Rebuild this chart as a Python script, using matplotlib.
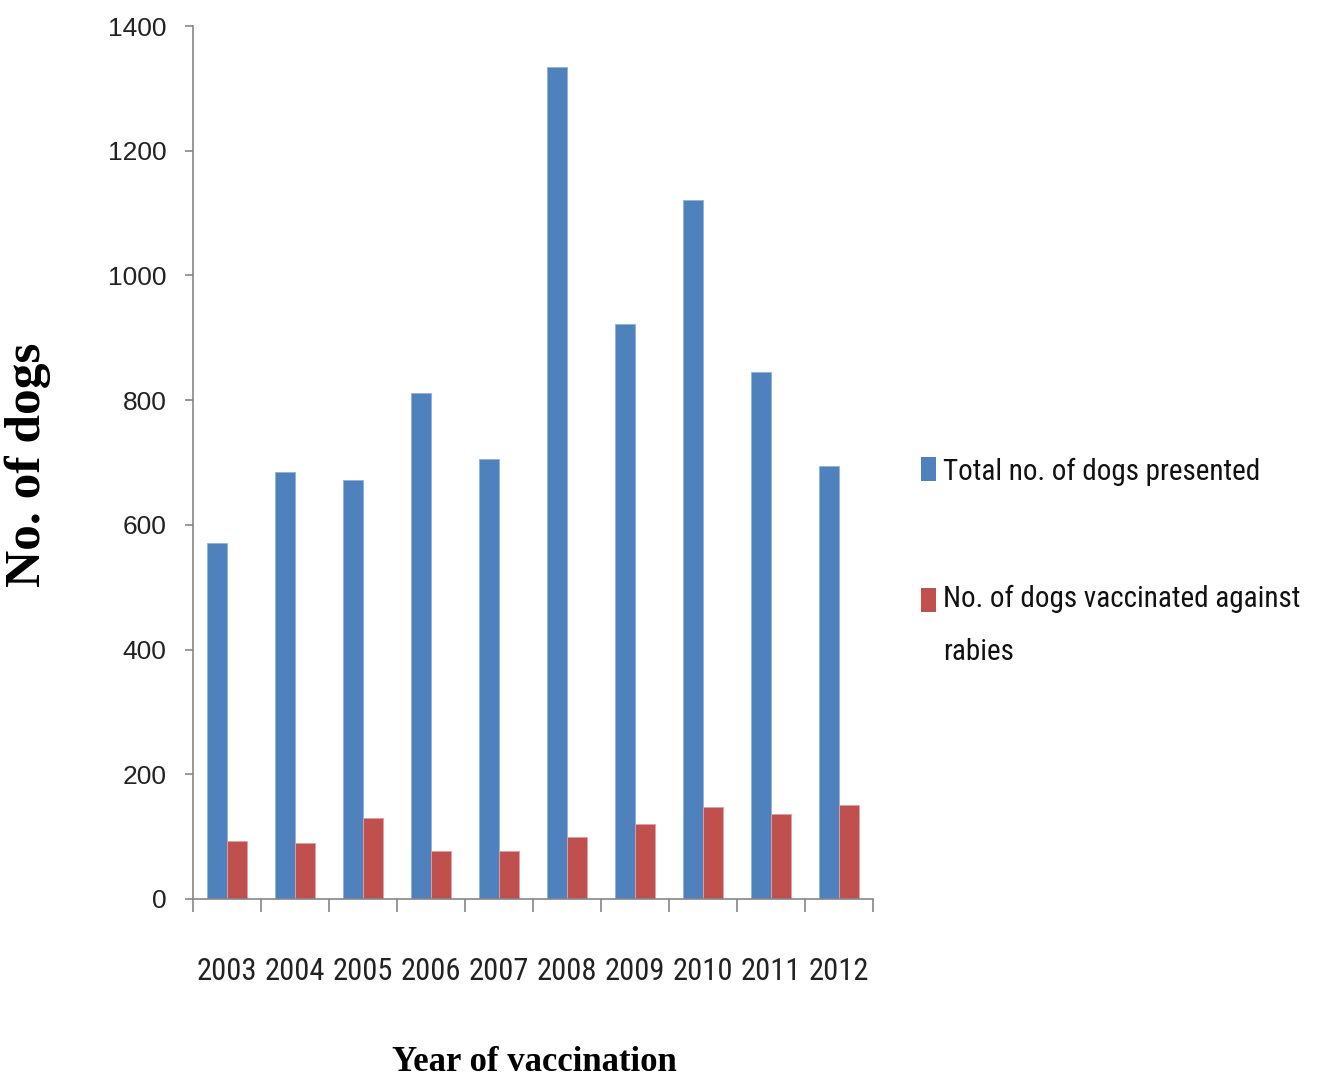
import matplotlib
matplotlib.use("Agg")
import matplotlib.pyplot as plt
from matplotlib import font_manager
from matplotlib.patches import Rectangle
import numpy as np

# Data
years = ["2003", "2004", "2005", "2006", "2007", "2008", "2009", "2010", "2011", "2012"]
total_presented = [571, 685, 672, 812, 705, 1335, 922, 1121, 845, 695]
vaccinated = [93, 90, 130, 77, 77, 100, 120, 147, 137, 150]
series_names = ["Total no. of dogs presented", "No. of dogs vaccinated against\nrabies"]
y_ticks = [0, 200, 400, 600, 800, 1000, 1200, 1400]

BLUE = "#4F81BD"
RED = "#C0504D"
AXIS_GREY = "#868686"

available = {f.name for f in font_manager.fontManager.ttflist}


def pick(*names):
    for n in names:
        if n in available:
            return n
    return "DejaVu Sans"


narrow = pick("Liberation Sans Narrow", "Roboto Condensed", "Open Sans Condensed", "Liberation Sans")
sans = pick("Liberation Sans", "DejaVu Sans")
serif = pick("Liberation Serif", "DejaVu Serif")

W, H = 1322, 1080
fig = plt.figure(figsize=(W / 100, H / 100), dpi=100)
ax = fig.add_axes([193 / W, 1 - 899 / H, 680 / W, 873 / H])

x = np.arange(len(years))
bw = 0.29
ax.bar(x - bw / 2, total_presented, width=bw, color=BLUE, edgecolor="#8EB0DC", linewidth=0.6)
ax.bar(x + bw / 2, vaccinated, width=bw, color=RED, edgecolor="#E0A09E", linewidth=0.6)

ax.set_xlim(-0.5, len(years) - 0.5)
ax.set_ylim(0, 1400)

for side in ("top", "right"):
    ax.spines[side].set_visible(False)
for side in ("left", "bottom"):
    ax.spines[side].set_color(AXIS_GREY)
    ax.spines[side].set_linewidth(1.2)

# y axis
ax.set_yticks(y_ticks)
ax.set_yticklabels([str(v) for v in y_ticks], fontfamily=sans, fontsize=19, color="#222222")
ax.tick_params(axis="y", direction="out", length=6, width=1.2, color=AXIS_GREY, pad=13)

# x axis: tick marks on category boundaries, labels at category centres
ax.set_xticks(np.arange(-0.5, len(years)), labels=[""] * (len(years) + 1))
ax.set_xticks(x, labels=years, minor=True)
ax.tick_params(axis="x", which="major", direction="out", length=9, width=1.2, color=AXIS_GREY)
ax.tick_params(axis="x", which="minor", length=0, pad=42, labelsize=22, labelcolor="#222222")
for lbl in ax.get_xticklabels(minor=True):
    lbl.set_fontfamily(narrow)

# axis titles
fig.text(534 / W, 1 - 1071 / H, "Year of vaccination", ha="center", va="baseline",
         fontfamily=serif, fontweight="bold", fontsize=25, color="black")
fig.text(28 / W, 1 - 465 / H, "No. of dogs", ha="center", va="center", rotation=90,
         fontfamily=serif, fontweight="bold", fontsize=37, color="black")

# legend
fig.patches.append(Rectangle((921 / W, 1 - 481 / H), 15 / W, 24 / H,
                             transform=fig.transFigure, facecolor=BLUE, edgecolor="none"))
fig.text(943 / W, 1 - 469 / H, series_names[0], ha="left", va="center_baseline",
         fontfamily=narrow, fontsize=21, color="#111111")
fig.patches.append(Rectangle((921 / W, 1 - 612 / H), 15 / W, 24 / H,
                             transform=fig.transFigure, facecolor=RED, edgecolor="none"))
fig.text(943 / W, 1 - 585 / H, series_names[1], ha="left", va="top", linespacing=2.15,
         fontfamily=narrow, fontsize=21, color="#111111")

fig.savefig("out.png", dpi=100, facecolor="white")
